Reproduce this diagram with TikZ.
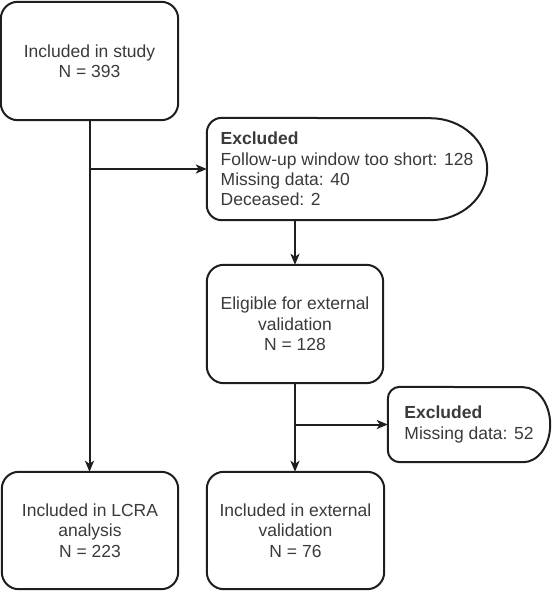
\documentclass[tikz,border=0pt]{standalone}
\usepackage{fontspec}
\setmainfont{Liberation Sans}
\usetikzlibrary{arrows.meta,calc}
\definecolor{txt}{HTML}{3A3A3A}
\definecolor{ln}{HTML}{1E1E1E}
\begin{document}
\begin{tikzpicture}[x=1pt,y=-1pt,
  lin/.style={draw=ln, line width=2pt},
  box/.style={align=center, text=txt,
    font=\fontsize{17.5}{20.3}\selectfont, inner sep=0pt},
  exbox/.style={align=left, text=txt, font=\fontsize{17.5}{20.3}\selectfont, inner sep=0pt},
  arr/.style={lin, -{Stealth[length=11pt,width=9pt,inset=3pt]}}
]
\useasboundingbox (0,0) rectangle (553,592);

\node[box, minimum width=177pt, minimum height=118pt] (study) at (89.5,61)
  {Included in study\\N = 393};
\node[box, minimum width=176pt, minimum height=117pt] (lcra) at (90,530.5)
  {Included in LCRA\\analysis\\N = 223};
\node[box, minimum width=176pt, minimum height=118pt] (elig) at (295,324)
  {Eligible for external\\validation\\N = 128};
\node[box, minimum width=177pt, minimum height=117pt] (ext) at (295.5,530.5)
  {Included in external\\validation\\N = 76};
\foreach \n in {study,lcra,elig,ext}
  \draw[lin, rounded corners=17pt] (\n.north west) -- (\n.north east)
    -- (\n.south east) -- (\n.south west) -- cycle;

\node[exbox, minimum width=280pt, minimum height=102pt] (excl1) at (347,169)
  {\textbf{Excluded}\\Follow-up window too short: 128\\Missing data: 40\\Deceased: 2};
\draw[lin] ([xshift=-57pt]excl1.south east)
  arc[start angle=-90, end angle=90, x radius=57pt, y radius=51pt]
  [rounded corners=15pt] -- (excl1.north west) -- (excl1.south west)
  -- ([xshift=-57pt]excl1.south east);

\node[exbox, minimum width=162pt, minimum height=75pt] (excl2) at (469,424.5)
  {\textbf{Excluded}\\Missing data: 52};
\draw[lin] ([xshift=-27pt]excl2.south east)
  arc[start angle=-90, end angle=90, x radius=27pt, y radius=37.5pt]
  [rounded corners=12pt] -- (excl2.north west) -- (excl2.south west)
  -- ([xshift=-27pt]excl2.south east);

\draw[arr] (study.south) -- (study.south |- lcra.north);
\draw[arr] (study.south |- excl1.west) -- (excl1.west);
\draw[arr] (excl1.south -| elig.north) -- (elig.north);
\draw[arr] (elig.south) -- (elig.south |- ext.north);
\draw[arr] (elig.south |- excl2.west) -- (excl2.west);
\end{tikzpicture}
\end{document}
